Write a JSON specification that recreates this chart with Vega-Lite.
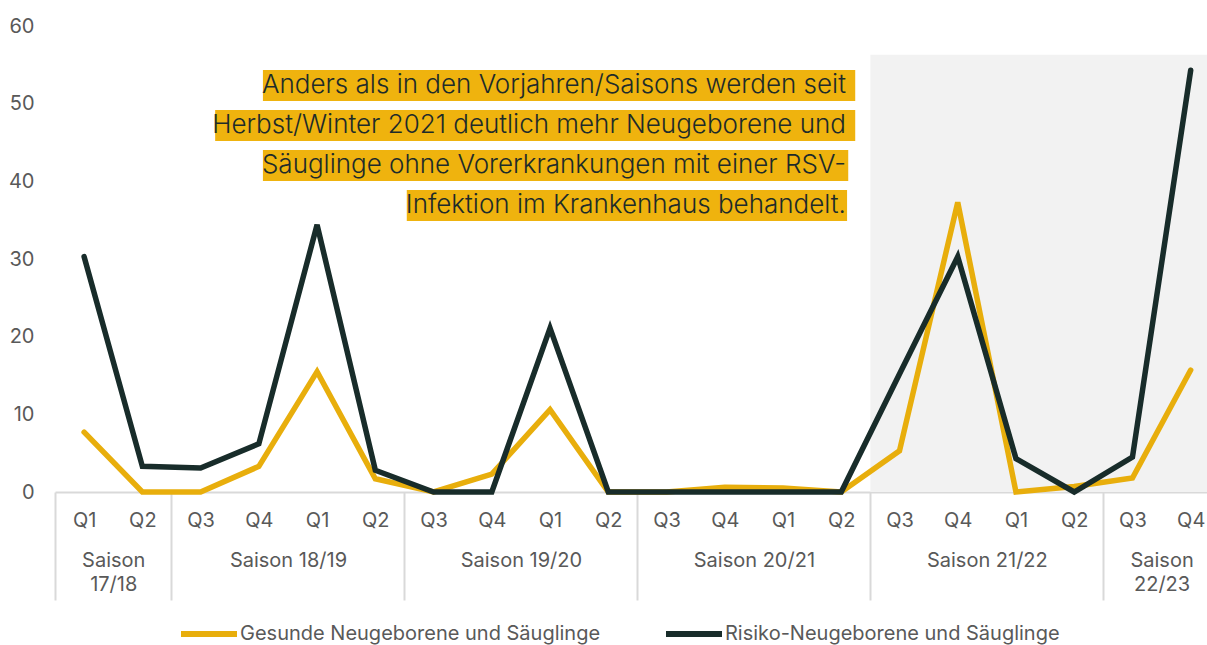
{
  "$schema": "https://vega.github.io/schema/vega-lite/v6.json",
  "width": 1152,
  "height": 466,
  "autosize": {"type": "none"},
  "padding": {"left": 55, "top": 26, "right": 0, "bottom": 153},
  "background": "white",
  "config": {"view": {"stroke": null}, "font": "Inter", "axis": {"labelOverlap": false}},
  "resolve": {"scale": {"x": "independent"}, "axis": {"x": "independent"}},
  "datasets": {
    "series": [
      {"i": 0, "quartal": "Q1", "saison": "17/18", "gruppe": "Gesunde Neugeborene und Säuglinge", "wert": 7.7},
      {"i": 1, "quartal": "Q2", "saison": "17/18", "gruppe": "Gesunde Neugeborene und Säuglinge", "wert": 0},
      {"i": 2, "quartal": "Q3", "saison": "18/19", "gruppe": "Gesunde Neugeborene und Säuglinge", "wert": 0},
      {"i": 3, "quartal": "Q4", "saison": "18/19", "gruppe": "Gesunde Neugeborene und Säuglinge", "wert": 3.3},
      {"i": 4, "quartal": "Q1", "saison": "18/19", "gruppe": "Gesunde Neugeborene und Säuglinge", "wert": 15.5},
      {"i": 5, "quartal": "Q2", "saison": "18/19", "gruppe": "Gesunde Neugeborene und Säuglinge", "wert": 1.7},
      {"i": 6, "quartal": "Q3", "saison": "19/20", "gruppe": "Gesunde Neugeborene und Säuglinge", "wert": 0},
      {"i": 7, "quartal": "Q4", "saison": "19/20", "gruppe": "Gesunde Neugeborene und Säuglinge", "wert": 2.3},
      {"i": 8, "quartal": "Q1", "saison": "19/20", "gruppe": "Gesunde Neugeborene und Säuglinge", "wert": 10.6},
      {"i": 9, "quartal": "Q2", "saison": "19/20", "gruppe": "Gesunde Neugeborene und Säuglinge", "wert": 0},
      {"i": 10, "quartal": "Q3", "saison": "20/21", "gruppe": "Gesunde Neugeborene und Säuglinge", "wert": 0},
      {"i": 11, "quartal": "Q4", "saison": "20/21", "gruppe": "Gesunde Neugeborene und Säuglinge", "wert": 0.6},
      {"i": 12, "quartal": "Q1", "saison": "20/21", "gruppe": "Gesunde Neugeborene und Säuglinge", "wert": 0.5},
      {"i": 13, "quartal": "Q2", "saison": "20/21", "gruppe": "Gesunde Neugeborene und Säuglinge", "wert": 0},
      {"i": 14, "quartal": "Q3", "saison": "21/22", "gruppe": "Gesunde Neugeborene und Säuglinge", "wert": 5.3},
      {"i": 15, "quartal": "Q4", "saison": "21/22", "gruppe": "Gesunde Neugeborene und Säuglinge", "wert": 37.3},
      {"i": 16, "quartal": "Q1", "saison": "21/22", "gruppe": "Gesunde Neugeborene und Säuglinge", "wert": 0},
      {"i": 17, "quartal": "Q2", "saison": "21/22", "gruppe": "Gesunde Neugeborene und Säuglinge", "wert": 0.7},
      {"i": 18, "quartal": "Q3", "saison": "22/23", "gruppe": "Gesunde Neugeborene und Säuglinge", "wert": 1.8},
      {"i": 19, "quartal": "Q4", "saison": "22/23", "gruppe": "Gesunde Neugeborene und Säuglinge", "wert": 15.7},
      {"i": 0, "quartal": "Q1", "saison": "17/18", "gruppe": "Risiko-Neugeborene und Säuglinge", "wert": 30.3},
      {"i": 1, "quartal": "Q2", "saison": "17/18", "gruppe": "Risiko-Neugeborene und Säuglinge", "wert": 3.3},
      {"i": 2, "quartal": "Q3", "saison": "18/19", "gruppe": "Risiko-Neugeborene und Säuglinge", "wert": 3.1},
      {"i": 3, "quartal": "Q4", "saison": "18/19", "gruppe": "Risiko-Neugeborene und Säuglinge", "wert": 6.2},
      {"i": 4, "quartal": "Q1", "saison": "18/19", "gruppe": "Risiko-Neugeborene und Säuglinge", "wert": 34.4},
      {"i": 5, "quartal": "Q2", "saison": "18/19", "gruppe": "Risiko-Neugeborene und Säuglinge", "wert": 2.8},
      {"i": 6, "quartal": "Q3", "saison": "19/20", "gruppe": "Risiko-Neugeborene und Säuglinge", "wert": 0},
      {"i": 7, "quartal": "Q4", "saison": "19/20", "gruppe": "Risiko-Neugeborene und Säuglinge", "wert": 0},
      {"i": 8, "quartal": "Q1", "saison": "19/20", "gruppe": "Risiko-Neugeborene und Säuglinge", "wert": 21.1},
      {"i": 9, "quartal": "Q2", "saison": "19/20", "gruppe": "Risiko-Neugeborene und Säuglinge", "wert": 0},
      {"i": 10, "quartal": "Q3", "saison": "20/21", "gruppe": "Risiko-Neugeborene und Säuglinge", "wert": 0},
      {"i": 11, "quartal": "Q4", "saison": "20/21", "gruppe": "Risiko-Neugeborene und Säuglinge", "wert": 0},
      {"i": 12, "quartal": "Q1", "saison": "20/21", "gruppe": "Risiko-Neugeborene und Säuglinge", "wert": 0},
      {"i": 13, "quartal": "Q2", "saison": "20/21", "gruppe": "Risiko-Neugeborene und Säuglinge", "wert": 0},
      {"i": 14, "quartal": "Q3", "saison": "21/22", "gruppe": "Risiko-Neugeborene und Säuglinge", "wert": 15.2},
      {"i": 15, "quartal": "Q4", "saison": "21/22", "gruppe": "Risiko-Neugeborene und Säuglinge", "wert": 30.3},
      {"i": 16, "quartal": "Q1", "saison": "21/22", "gruppe": "Risiko-Neugeborene und Säuglinge", "wert": 4.3},
      {"i": 17, "quartal": "Q2", "saison": "21/22", "gruppe": "Risiko-Neugeborene und Säuglinge", "wert": 0},
      {"i": 18, "quartal": "Q3", "saison": "22/23", "gruppe": "Risiko-Neugeborene und Säuglinge", "wert": 4.5},
      {"i": 19, "quartal": "Q4", "saison": "22/23", "gruppe": "Risiko-Neugeborene und Säuglinge", "wert": 54.3}
    ],
    "notes": [
      {"text": "Anders als in den Vorjahren/Saisons werden seit", "x0": 3.07, "x1": 13.24, "y0": 50.34, "y1": 54.33, "xt": 13.08, "yt": 52.34},
      {"text": "Herbst/Winter 2021 deutlich mehr Neugeborene und", "x0": 2.25, "x1": 13.24, "y0": 45.19, "y1": 49.18, "xt": 13.08, "yt": 47.19},
      {"text": "Säuglinge ohne Vorerkrankungen mit einer RSV-", "x0": 3.07, "x1": 13.12, "y0": 40.04, "y1": 44.03, "xt": 13.08, "yt": 42.04},
      {"text": "Infektion im Krankenhaus behandelt.", "x0": 5.54, "x1": 13.1, "y0": 34.89, "y1": 38.88, "xt": 13.08, "yt": 36.89}
    ],
    "shade": [
      {"von": 13.5, "bis": 19.28, "unten": 0, "oben": 56.3}
    ]
  },
  "layer": [
    {
      "data": {"name": "shade"},
      "mark": {"type": "rect", "color": "#f2f2f2"},
      "encoding": {
        "x": {
          "field": "von",
          "type": "quantitative",
          "scale": {"domain": [-0.5, 19.28], "nice": false, "zero": false},
          "axis": {
            "title": null,
            "orient": "bottom",
            "grid": false,
            "domain": false,
            "values": [-0.5, 0.5, 1.5, 3.5, 5.5, 7.5, 9.5, 11.5, 13.5, 15.5, 17.5, 18.5],
            "labelExpr": "datum.value == 0.5 ? ['Saison', '17/18'] : datum.value == 3.5 ? 'Saison 18/19' : datum.value == 7.5 ? 'Saison 19/20' : datum.value == 11.5 ? 'Saison 20/21' : datum.value == 15.5 ? 'Saison 21/22' : datum.value == 18.5 ? ['Saison', '22/23'] : ''",
            "labelOverlap": false,
            "labelFlush": false,
            "labelFont": "Inter",
            "labelFontSize": 20,
            "labelColor": "#595959",
            "labelLineHeight": 24.5,
            "labelPadding": -50,
            "labelBaseline": "top",
            "labelAlign": "center",
            "tickSize": 108,
            "tickWidth": 2,
            "tickColor": {"condition": {"test": "indexof([-0.5, 1.5, 5.5, 9.5, 13.5, 17.5], datum.value) >= 0", "value": "#d9d9d9"}, "value": "transparent"}
          }
        },
        "x2": {"field": "bis"},
        "y": {"field": "unten", "type": "quantitative", "scale": {"domain": [0, 60], "nice": false}, "axis": {"title": null}},
        "y2": {"field": "oben"}
      }
    },
    {
      "data": {"name": "notes"},
      "mark": {"type": "rect", "color": "#efb30e"},
      "encoding": {
        "x": {"field": "x0", "type": "quantitative", "scale": {"domain": [-0.5, 19.28], "nice": false, "zero": false}, "axis": null},
        "x2": {"field": "x1"},
        "y": {"field": "y0", "type": "quantitative", "scale": {"domain": [0, 60], "nice": false}, "axis": {"title": null}},
        "y2": {"field": "y1"}
      }
    },
    {
      "data": {"name": "notes"},
      "mark": {"type": "text", "align": "right", "baseline": "middle", "font": "Inter", "fontSize": 26, "fontWeight": 300, "color": "#1d2b2a"},
      "encoding": {
        "x": {"field": "xt", "type": "quantitative", "scale": {"domain": [-0.5, 19.28], "nice": false, "zero": false}, "axis": null},
        "y": {"field": "yt", "type": "quantitative", "scale": {"domain": [0, 60], "nice": false}, "axis": {"title": null}},
        "text": {"field": "text"}
      }
    },
    {
      "data": {"name": "series"},
      "mark": {"type": "line", "strokeWidth": 5.5, "strokeCap": "round"},
      "encoding": {
        "x": {
          "field": "i",
          "type": "quantitative",
          "scale": {"domain": [-0.5, 19.28], "nice": false, "zero": false},
          "axis": {
            "title": null,
            "orient": "bottom",
            "grid": false,
            "values": [0, 1, 2, 3, 4, 5, 6, 7, 8, 9, 10, 11, 12, 13, 14, 15, 16, 17, 18, 19],
            "labelExpr": "'Q' + (datum.value % 4 + 1)",
            "labelOverlap": false,
            "labelFlush": false,
            "labelFont": "Inter",
            "labelFontSize": 20,
            "labelColor": "#595959",
            "labelPadding": 18,
            "labelBaseline": "top",
            "labelAlign": "center",
            "ticks": false,
            "tickSize": 0,
            "domainColor": "#d9d9d9",
            "domainWidth": 2
          }
        },
        "y": {
          "field": "wert",
          "type": "quantitative",
          "scale": {"domain": [0, 60], "nice": false},
          "axis": {
            "title": null,
            "grid": false,
            "domain": false,
            "ticks": false,
            "values": [0, 10, 20, 30, 40, 50, 60],
            "labelPadding": 21,
            "labelFont": "Inter",
            "labelFontSize": 20,
            "labelColor": "#595959"
          }
        },
        "color": {
          "field": "gruppe",
          "type": "nominal",
          "scale": {"domain": ["Gesunde Neugeborene und Säuglinge", "Risiko-Neugeborene und Säuglinge"], "range": ["#e8ae0c", "#182c2a"]},
          "legend": {
            "title": null,
            "orient": "none",
            "direction": "horizontal",
            "legendX": 123,
            "legendY": 577,
            "symbolType": "stroke",
            "symbolSize": 3136,
            "symbolStrokeWidth": 6,
            "labelFont": "Inter",
            "labelFontSize": 20,
            "labelColor": "#595959",
            "labelOffset": 0,
            "labelLimit": 600,
            "columnPadding": 53
          }
        }
      }
    }
  ]
}
